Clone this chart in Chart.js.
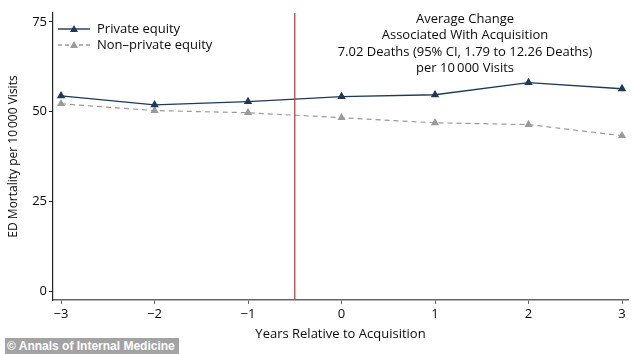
<!DOCTYPE html>
<html>
<head>
<meta charset="utf-8">
<script src="https://cdn.jsdelivr.net/npm/chart.js@4"></script>
<style>
  html, body { margin: 0; padding: 0; background: #fff; }
  #wrap { position: relative; width: 634px; height: 354px; }
  #credit {
    position: absolute; left: 5px; top: 338px; width: 174px; height: 16px; box-sizing: border-box; padding-left: 2px;
    background: #a3a3a3; color: #fff; font: bold 12px "Liberation Sans", Arial, sans-serif; line-height: 16px;
  }
</style>
</head>
<body>
<div id="wrap">
  <canvas id="c" width="634" height="354"></canvas>
  <div id="credit">© Annals of Internal Medicine</div>
</div>
<script>
const years = [-3, -2, -1, 0, 1, 2, 3];
const privateEquity = [54.4, 51.9, 52.8, 54.2, 54.7, 58.1, 56.4];
const nonPrivateEquity = [52.2, 50.3, 49.7, 48.3, 46.9, 46.4, 43.3];
const yTicks = [0, 25, 50, 75];
const acquisitionLine = -0.5;
const noteLines = [
  'Average Change',
  'Associated With Acquisition',
  '7.02 Deaths (95% CI, 1.79 to 12.26 Deaths)',
  'per 10\u2009000 Visits'
];

const FONT = '"Open Sans", sans-serif';
const navy = '#1d3a58';
const grey = '#9a9a9a';
const ink = '#0a0a0a';

const toPoints = vals => years.map((x, i) => ({ x, y: vals[i] }));

// red line, annotation text and legend
const extras = {
  id: 'extras',
  afterDatasetsDraw(chart) {
    const { ctx, chartArea, scales } = chart;
    const x = scales.x.getPixelForValue(acquisitionLine);
    ctx.save();
    ctx.strokeStyle = '#b5323c';
    ctx.lineWidth = 1.2;
    ctx.beginPath();
    ctx.moveTo(x, chartArea.top);
    ctx.lineTo(x, chartArea.bottom);
    ctx.stroke();

    ctx.fillStyle = ink;
    ctx.font = '13px ' + FONT;
    ctx.textAlign = 'center';
    ctx.textBaseline = 'middle';
    noteLines.forEach((t, i) => ctx.fillText(t, 465, 19 + i * 16.5));

    // legend
    const items = [
      { label: 'Private equity', color: navy, dash: [], y: 29 },
      { label: 'Non\u2013private equity', color: grey, dash: [4, 3], y: 45 }
    ];
    items.forEach(it => {
      ctx.strokeStyle = it.color;
      ctx.lineWidth = 1.4;
      ctx.setLineDash(it.dash);
      ctx.beginPath();
      ctx.moveTo(58, it.y);
      ctx.lineTo(90, it.y);
      ctx.stroke();
      ctx.setLineDash([]);
      ctx.fillStyle = it.color;
      ctx.beginPath();
      ctx.moveTo(74, it.y - 4);
      ctx.lineTo(78, it.y + 3);
      ctx.lineTo(70, it.y + 3);
      ctx.closePath();
      ctx.fill();
      ctx.fillStyle = ink;
      ctx.textAlign = 'left';
      ctx.font = '13px ' + FONT;
      ctx.fillText(it.label, 97, it.y);
    });
    ctx.restore();
  }
};

new Chart(document.getElementById('c'), {
  type: 'scatter',
  data: {
    datasets: [
      {
        label: 'Private equity',
        data: toPoints(privateEquity),
        showLine: true,
        borderColor: navy,
        backgroundColor: navy,
        borderWidth: 1.4,
        pointStyle: 'triangle',
        pointRadius: 3.5,
        tension: 0
      },
      {
        label: 'Non\u2013private equity',
        data: toPoints(nonPrivateEquity),
        showLine: true,
        borderColor: grey,
        backgroundColor: grey,
        borderWidth: 1.2,
        borderDash: [5, 4],
        pointStyle: 'triangle',
        pointRadius: 3.5,
        tension: 0
      }
    ]
  },
  options: {
    responsive: false,
    animation: false,
    layout: { padding: { top: 13, right: 6, left: 0, bottom: 0 } },
    plugins: { legend: { display: false }, tooltip: { enabled: false } },
    scales: {
      x: {
        type: 'linear',
        min: -3.086,
        max: 3.064,
        afterFit: s => { s.height = 54; },
        afterBuildTicks: s => { s.ticks = years.map(v => ({ value: v })); },
        border: { color: '#666', width: 1.5 },
        grid: { drawOnChartArea: false, tickLength: 4, color: '#666' },
        ticks: {
          color: ink,
          font: { family: FONT, size: 13 },
          padding: 2,
          callback: v => String(v).replace('-', '\u2212')
        },
        title: {
          display: true,
          text: 'Years Relative to Acquisition',
          color: ink,
          font: { family: FONT, size: 13 },
          padding: { top: 2, bottom: 12 }
        }
      },
      y: {
        min: -2.5,
        max: 77.5,
        afterFit: s => { s.width = 53; },
        afterBuildTicks: s => { s.ticks = yTicks.map(v => ({ value: v })); },
        border: { color: '#222', width: 1.2 },
        grid: { drawOnChartArea: false, tickLength: 4, color: '#222' },
        ticks: {
          color: ink,
          font: { family: FONT, size: 13 },
          padding: 2
        },
        title: {
          display: true,
          text: 'ED Mortality per 10\u2009000 Visits',
          color: ink,
          font: { family: FONT, size: 12 },
          padding: { top: 6, bottom: 6 }
        }
      }
    }
  },
  plugins: [extras]
});
</script>
</body>
</html>
